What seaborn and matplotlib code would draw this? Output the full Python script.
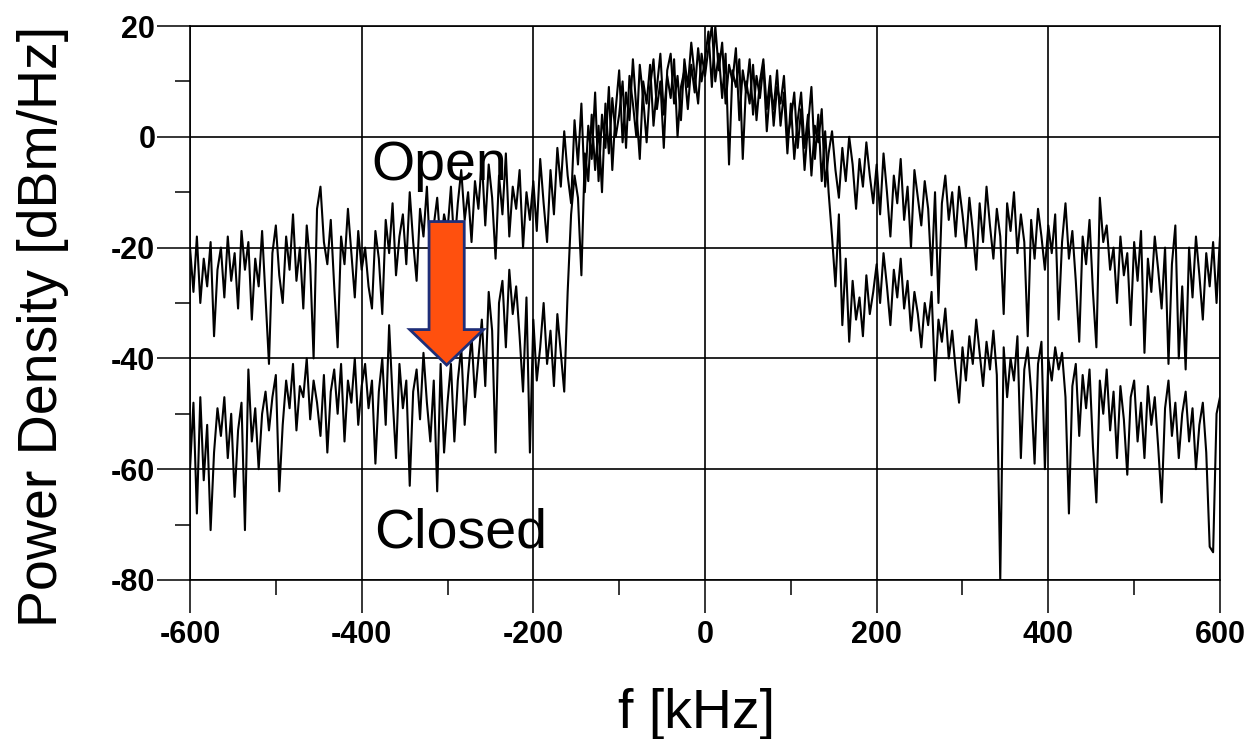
import numpy as np
import matplotlib
matplotlib.use('Agg')
import matplotlib.pyplot as plt
import seaborn as sns
from matplotlib.patches import FancyArrow
from matplotlib.ticker import MultipleLocator

# frequency bins, 4 kHz spacing
freq = np.arange(-600, 601, 4)

# open aperture spectrum (dBm/Hz), 25 bins per row
open_db = [
    -20, -28, -18, -30, -22, -27, -19, -36, -24, -20, -29, -18, -26, -21, -31, -17, -24, -19, -33, -22, -27, -17, -29, -41, -21,
    -16, -25, -30, -18, -24, -14, -26, -20, -31, -16, -23, -40, -13, -9, -19, -23, -15, -27, -38, -18, -23, -13, -21, -29, -17,
    -24, -20, -27, -31, -17, -22, -32, -15, -21, -12, -25, -18, -14, -23, -10, -19, -26, -13, -18, -9, -22, -16, -11, -20, -14,
    -17, -9, -20, -12, -6, -15, -10, -19, -8, -13, -4, -16, -5, -11, -22, -7, -14, -3, -18, -9, -13, -6, -20, -10, -15,
    -8, -17, -4, -12, -19, -6, -14, -2, -9, 1, -7, -12, 3, -5, 6, -10, 2, -4, 8, -8, 4, -2, 9, -6, 5,
    12, -1, 8, 3, 14, 5, -4, 10, 6, 13, 2, 9, 15, 4, 11, 7, 14, 0, 9, 12, 5, 13, 8, 16, 10,
    14, 19, 9, 20, 12, 17, 6, 13, 10, 16, 3, 12, 8, 14, 4, 11, 7, 13, 1, 9, 5, 12, 2, 8, -3,
    6, -4, 3, 8, -2, 4, -7, 2, -1, 5, -9, -3, 1, -6, -11, -2, -8, 0, -5, -13, -4, -9, -1, -7, -12,
    -5, -14, -3, -10, -18, -7, -12, -4, -15, -9, -20, -6, -11, -16, -8, -13, -25, -10, -30, -12, -7, -15, -10, -18, -9,
    -14, -20, -11, -17, -24, -12, -19, -9, -16, -22, -13, -18, -32, -12, -17, -10, -21, -14, -19, -36, -15, -22, -13, -18, -24,
    -16, -21, -14, -33, -19, -12, -22, -17, -26, -37, -18, -23, -15, -28, -38, -11, -19, -16, -24, -20, -30, -18, -25, -21, -34,
    -19, -26, -17, -39, -22, -28, -18, -24, -31, -20, -41, -23, -16, -40, -27, -42, -20, -29, -18, -25, -33, -21, -27, -19, -30,
    -18,
]

# closed aperture spectrum (dBm/Hz)
closed_db = [
    -60, -48, -68, -47, -62, -52, -71, -57, -49, -54, -47, -58, -50, -65, -53, -48, -71, -42, -55, -49, -60, -50, -46, -53, -47,
    -43, -64, -52, -44, -49, -41, -53, -45, -47, -40, -51, -44, -48, -54, -43, -57, -46, -42, -50, -41, -55, -44, -48, -40, -52,
    -45, -41, -49, -44, -59, -46, -40, -52, -34, -47, -58, -41, -49, -44, -63, -46, -42, -51, -39, -48, -55, -44, -64, -41, -57,
    -48, -41, -55, -44, -38, -52, -43, -36, -47, -40, -33, -45, -28, -35, -57, -30, -26, -38, -24, -32, -27, -36, -46, -29, -57,
    -33, -44, -38, -30, -41, -35, -45, -32, -39, -46, -28, -14, -7, -11, -25, -3, -8, 4, -6, 2, -10, 6, -3, 7, 0,
    4, 10, -2, 11, 6, 0, 13, 7, -1, 9, 14, 5, 10, -2, 12, 15, 6, 11, 3, 14, 9, 17, 11, 6, 15,
    11, 16, 20, 10, 15, 7, 15, -5, 12, 9, 14, -4, 10, 6, 13, 3, 10, 14, 5, 11, 2, 9, 6, 11, 0,
    3, 8, -2, 5, -6, 2, 9, -4, 4, -8, 1, -10, -18, -27, -14, -34, -22, -37, -26, -33, -29, -36, -25, -32, -28,
    -23, -30, -21, -27, -34, -24, -29, -22, -31, -26, -35, -28, -32, -38, -30, -34, -28, -44, -33, -37, -31, -40, -35, -42, -48,
    -38, -44, -36, -41, -33, -39, -45, -37, -42, -35, -43, -80, -38, -47, -40, -44, -36, -58, -42, -38, -46, -59, -41, -37, -60,
    -40, -44, -38, -42, -39, -47, -68, -45, -41, -54, -43, -49, -42, -56, -66, -44, -50, -42, -53, -46, -58, -45, -51, -61, -47,
    -44, -55, -48, -58, -45, -52, -47, -56, -66, -49, -44, -54, -48, -58, -50, -46, -55, -49, -60, -52, -48, -57, -74, -75, -50,
    -47,
]

x_ticks = [-600, -400, -200, 0, 200, 400, 600]
y_ticks = [-80, -60, -40, -20, 0, 20]

sns.set_style('white')
plt.rcParams['font.family'] = ['Liberation Sans', 'DejaVu Sans']
plt.rcParams['axes.unicode_minus'] = False
plt.rcParams['text.color'] = 'black'
plt.rcParams['axes.labelcolor'] = 'black'
plt.rcParams['xtick.color'] = 'black'
plt.rcParams['ytick.color'] = 'black'

fig = plt.figure(figsize=(12.55, 7.39), dpi=100)
ax = fig.add_axes([0.1514, 0.2152, 0.8207, 0.7496])

sns.lineplot(x=freq, y=open_db, color='black', lw=1.5, estimator=None, sort=False, ax=ax, zorder=3)
sns.lineplot(x=freq, y=closed_db, color='black', lw=1.5, estimator=None, sort=False, ax=ax, zorder=3)

ax.set_xlim(-600, 600)
ax.set_ylim(-80, 20)
ax.set_xticks(x_ticks)
ax.set_yticks(y_ticks)
ax.xaxis.set_minor_locator(MultipleLocator(100))
ax.yaxis.set_minor_locator(MultipleLocator(10))
ax.grid(True, which='major', color='black', lw=1.2)
ax.set_axisbelow(True)

for s in ax.spines.values():
    s.set_color('black')
    s.set_linewidth(1.2)

ax.tick_params(axis='both', which='both', bottom=True, left=True, top=False, right=False)
ax.tick_params(axis='both', which='major', direction='out', length=24, width=1.1, color='black')
ax.tick_params(axis='both', which='minor', direction='out', length=11, width=1.1, color='black')
ax.tick_params(axis='y', which='major', pad=1, labelsize=22)
ax.tick_params(axis='x', which='major', pad=5, labelsize=22)
for lab in ax.get_yticklabels():
    lab.set_fontweight('bold')
for lab in ax.get_xticklabels():
    lab.set_fontweight('bold')

ax.set_xlabel('f [kHz]', fontsize=40)
ax.set_ylabel('Power Density [dBm/Hz]', fontsize=40)
ax.xaxis.set_label_coords(0.492, -0.195)
ax.yaxis.set_label_coords(-0.117, 0.457)

ax.text(-389, -7.8, 'Open', fontsize=40, ha='left', va='baseline', zorder=5)
ax.text(-386, -74.2, 'Closed', fontsize=40, ha='left', va='baseline', zorder=5)

arrow = FancyArrow(-301, -15.3, 0, -25.9, width=41, head_width=86, head_length=6.4,
                   length_includes_head=True, facecolor='#FF500E', edgecolor='#1F2E78',
                   lw=2, zorder=6)
ax.add_patch(arrow)

fig.savefig('out.png', dpi=100)
